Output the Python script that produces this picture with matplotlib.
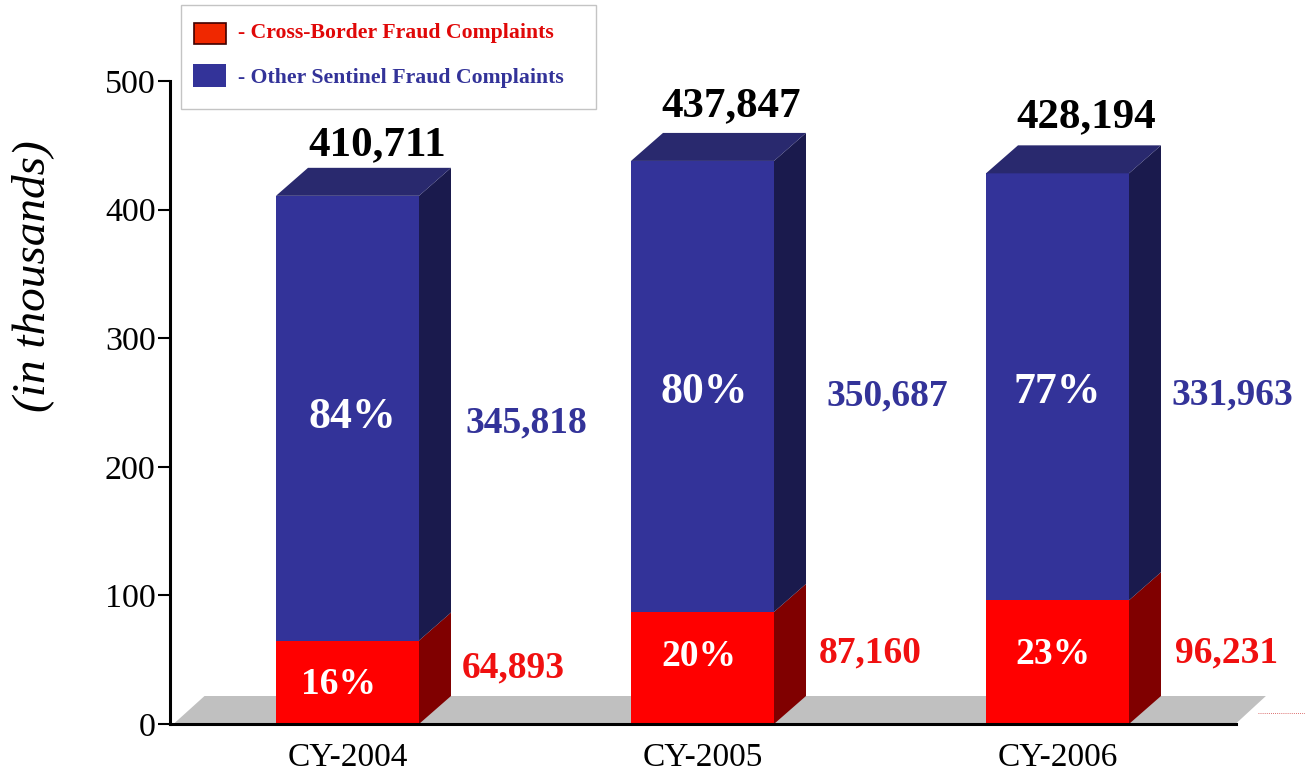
import matplotlib
matplotlib.use('Agg')
import matplotlib.pyplot as plt
from matplotlib.patches import Polygon, Rectangle
from matplotlib.transforms import Affine2D

years = ['CY-2004', 'CY-2005', 'CY-2006']
cross_border = [64893, 87160, 96231]
other_sentinel = [345818, 350687, 331963]
totals = [410711, 437847, 428194]
cross_pct = ['16%', '20%', '23%']
other_pct = ['84%', '80%', '77%']
y_ticks = [0, 100, 200, 300, 400, 500]

W, H = 1305, 772
BLUE = '#333399'
BLUE_TOP = '#29296e'
BLUE_SIDE = '#1a1a4d'
RED = '#ff0000'
RED_SIDE = '#800000'
GREY = '#c0c0c0'

plt.rcParams['font.family'] = ['Liberation Serif', 'DejaVu Serif']

fig = plt.figure(figsize=(W / 100, H / 100), dpi=100)
ax = fig.add_axes([169.5 / W, (H - 724) / H, 1066.5 / W, 643 / H])
ax.set_xlim(-178 / 355, 888.5 / 355)
ax.set_ylim(0, 500)
ax.patch.set_alpha(0)

# pixel coordinates with the origin at the top left, for labels and legend
px = Affine2D().scale(1, -1).translate(0, H)

# depth of the 3d effect in data units
dx = 32 / 355
dy = 28 / 1.286
bar_w = 143 / 355

# floor
ax.add_patch(Polygon([(-174 / 355, 0), (888 / 355, 0), (888 / 355 + dx * 0.95, dy), (-143 / 355, dy)],
                     closed=True, fc=GREY, ec='none', clip_on=False, zorder=1))

for i in range(len(years)):
    low = cross_border[i] / 1000
    top = low + other_sentinel[i] / 1000
    r = i + bar_w / 2
    le = i - bar_w / 2
    ax.bar(i, low, width=bar_w, color=RED, zorder=3)
    ax.bar(i, top - low, bottom=low, width=bar_w, color=BLUE, zorder=3)
    ax.add_patch(Polygon([(r, 0), (r + dx, dy), (r + dx, low + dy), (r, low)], fc=RED_SIDE, ec='none', zorder=3))
    ax.add_patch(Polygon([(r, low), (r + dx, low + dy), (r + dx, top + dy), (r, top)], fc=BLUE_SIDE, ec='none',
                         clip_on=False, zorder=3))
    ax.add_patch(Polygon([(le, top), (le + dx, top + dy), (r + dx, top + dy), (r, top)], fc=BLUE_TOP, ec='none',
                         clip_on=False, zorder=3))

# axes
ax.spines['top'].set_visible(False)
ax.spines['right'].set_visible(False)
ax.spines['left'].set_linewidth(2.2)
ax.spines['bottom'].set_linewidth(2.2)
ax.spines['left'].set_zorder(5)
ax.spines['bottom'].set_zorder(5)
ax.set_yticks(y_ticks)
ax.tick_params(axis='y', length=9, width=1.5, labelsize=24.5, pad=1)
ax.set_xticks(range(len(years)))
ax.set_xticklabels(years)
ax.tick_params(axis='x', length=0, labelsize=24, pad=13)

fig.text(33, 276, '(in thousands)', transform=px, rotation=90, style='italic', fontsize=34,
         ha='center', va='center')

# value labels
total_pos = [(377, 145), (731, 106), (1086, 117)]
other_pos = [(526, 423), (887, 396), (1232, 395)]
cross_pos = [(513, 668), (870, 653), (1227, 653)]
other_pct_pos = [(352, 417), (704, 392), (1057, 392)]
cross_pct_pos = [(339, 685), (699, 657), (1053, 655)]

for i in range(len(years)):
    fig.text(*total_pos[i], f'{totals[i]:,}', transform=px, color='black', fontsize=31, fontweight='bold',
             ha='center', va='center')
    fig.text(*other_pos[i], f'{other_sentinel[i]:,}', transform=px, color=BLUE, fontsize=27, fontweight='bold',
             ha='center', va='center')
    fig.text(*cross_pos[i], f'{cross_border[i]:,}', transform=px, color='#f01010', fontsize=27, fontweight='bold',
             ha='center', va='center')
    fig.text(*other_pct_pos[i], other_pct[i], transform=px, color='white', fontsize=31.5, fontweight='bold',
             ha='center', va='center', zorder=6)
    fig.text(*cross_pct_pos[i], cross_pct[i], transform=px, color='white', fontsize=27, fontweight='bold',
             ha='center', va='center', zorder=6)

# legend
fig.add_artist(Rectangle((180.5, 4.5), 415, 104, transform=px, fc='white', ec='#c4c4c4', lw=1))
fig.add_artist(Rectangle((193.5, 22.5), 32, 21, transform=px, fc='#f02800', ec='#400000', lw=1.2))
fig.add_artist(Rectangle((193, 64), 33, 23, transform=px, fc=BLUE, ec='none'))
fig.text(238, 33, '- Cross-Border Fraud Complaints', transform=px, color='#e00808', fontsize=15.7,
         fontweight='bold', ha='left', va='center')
fig.text(238, 78, '- Other Sentinel Fraud Complaints', transform=px, color=BLUE, fontsize=15.7,
         fontweight='bold', ha='left', va='center')

# dotted stub to the right of the floor
fig.add_artist(plt.Line2D([1258, 1305], [713, 713], transform=px, color='#d04040', lw=0.6, ls=(0, (1, 1.5))))

fig.savefig('out.png', dpi=100)
